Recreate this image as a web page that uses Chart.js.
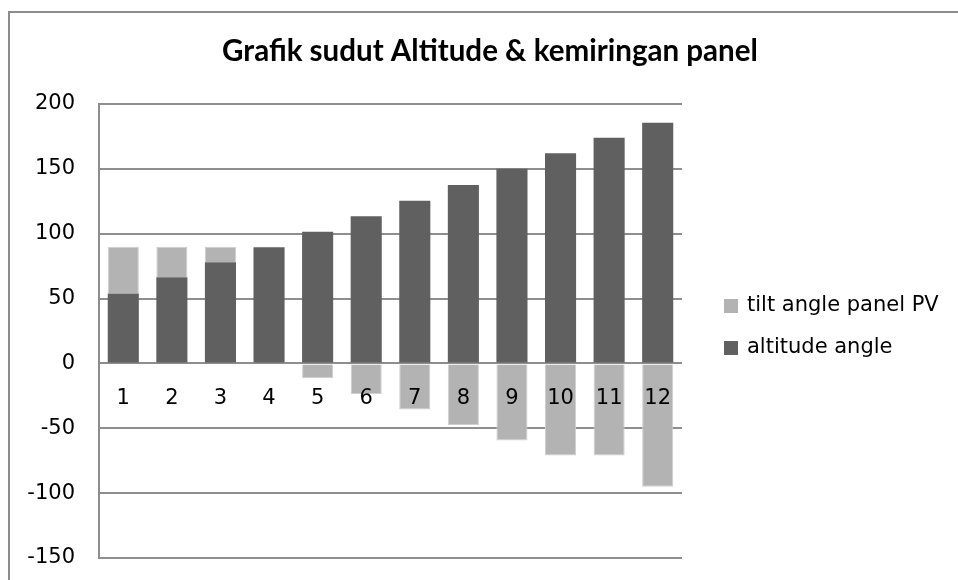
<!DOCTYPE html>
<html>
<head>
<meta charset="utf-8">
<script src="https://cdn.jsdelivr.net/npm/chart.js@4.4.1/dist/chart.umd.min.js"></script>
<style>
html,body{margin:0;padding:0;background:#ffffff;}
#wrap{width:958px;height:580px;position:relative;overflow:hidden;}
canvas{display:block;}
</style>
</head>
<body>
<div id="wrap"><canvas id="chart" width="958" height="580"></canvas></div>
<script>
const chartTitle = 'Grafik sudut Altitude & kemiringan panel';
const categories = ['1','2','3','4','5','6','7','8','9','10','11','12'];
const altitudeAngle = [54, 66.5, 78, 89.5, 101.5, 113.5, 125.5, 137.5, 150, 162, 174, 185.5];
const tiltAngle = [36, 23.5, 12, 0.5, -11.5, -23.5, -35.5, -47.5, -59.5, -71, -71, -95];
const seriesNames = ['altitude angle', 'tilt angle panel PV'];
const yMin = -150, yMax = 200, yStep = 50;

const DARK = '#606060';
const LIGHT = '#b3b3b3';
const GRID = '#8e8e8e';
const TICK_FONT = {family: 'DejaVu Sans', size: 21};

const framePlugin = {
  id: 'frame',
  beforeDraw(chart) {
    const ctx = chart.ctx;
    ctx.save();
    ctx.fillStyle = '#ffffff';
    ctx.fillRect(0, 0, chart.width, chart.height);
    ctx.strokeStyle = '#8c8c8c';
    ctx.lineWidth = 2;
    ctx.beginPath();
    ctx.moveTo(9, chart.height + 5);
    ctx.lineTo(9, 12);
    ctx.lineTo(chart.width + 5, 12);
    ctx.stroke();
    ctx.restore();
  }
};

const titleLegendPlugin = {
  id: 'titleLegend',
  afterDraw(chart) {
    const ctx = chart.ctx;
    ctx.save();
    // title
    let size = 26;
    ctx.font = 'bold ' + size + 'px Lato';
    const w = ctx.measureText(chartTitle).width;
    size = size * 536 / w;
    ctx.font = 'bold ' + size.toFixed(2) + 'px Lato';
    ctx.fillStyle = '#000000';
    ctx.textAlign = 'center';
    ctx.textBaseline = 'alphabetic';
    ctx.fillText(chartTitle, 490, 61);
    // legend (reverse order like stacked column legend)
    const ds = chart.data.datasets;
    const order = [1, 0];
    ctx.font = '21px "DejaVu Sans"';
    ctx.textAlign = 'left';
    ctx.textBaseline = 'middle';
    order.forEach((idx, i) => {
      const cy = 306 + i * 42;
      ctx.fillStyle = ds[idx].backgroundColor;
      ctx.fillRect(724, cy - 7, 14, 14);
      ctx.fillStyle = '#000000';
      ctx.fillText(ds[idx].label, 747, cy);
    });
    ctx.restore();
  }
};

new Chart(document.getElementById('chart'), {
  type: 'bar',
  data: {
    labels: categories,
    datasets: [
      {
        label: seriesNames[0],
        data: altitudeAngle,
        backgroundColor: DARK,
        borderWidth: 0,
        categoryPercentage: 1,
        barPercentage: 0.64,
        stack: 's'
      },
      {
        label: seriesNames[1],
        data: tiltAngle,
        backgroundColor: LIGHT,
        borderColor: '#cfcfcf',
        borderWidth: 1,
        categoryPercentage: 1,
        barPercentage: 0.64,
        stack: 's'
      }
    ]
  },
  options: {
    responsive: false,
    animation: false,
    devicePixelRatio: 1,
    layout: {padding: {left: 0, top: 104, right: 276, bottom: 22}},
    plugins: {
      legend: {display: false},
      title: {display: false},
      tooltip: {enabled: false}
    },
    scales: {
      x: {
        type: 'category',
        stacked: true,
        position: {y: 0},
        afterFit(scale) { scale.height = 0; },
        grid: {display: false, drawTicks: false},
        border: {display: false},
        ticks: {font: TICK_FONT, color: '#000000', padding: 23, maxRotation: 0, autoSkip: false, z: 1}
      },
      y: {
        stacked: true,
        min: yMin,
        max: yMax,
        afterFit(scale) { scale.width = 99; scale.paddingTop = 0; scale.paddingBottom = 0; },
        ticks: {stepSize: yStep, font: TICK_FONT, color: '#000000', padding: 24},
        grid: {color: GRID, lineWidth: 2, drawTicks: false},
        border: {display: true, color: GRID, width: 2}
      }
    }
  },
  plugins: [framePlugin, titleLegendPlugin]
});
</script>
</body>
</html>
